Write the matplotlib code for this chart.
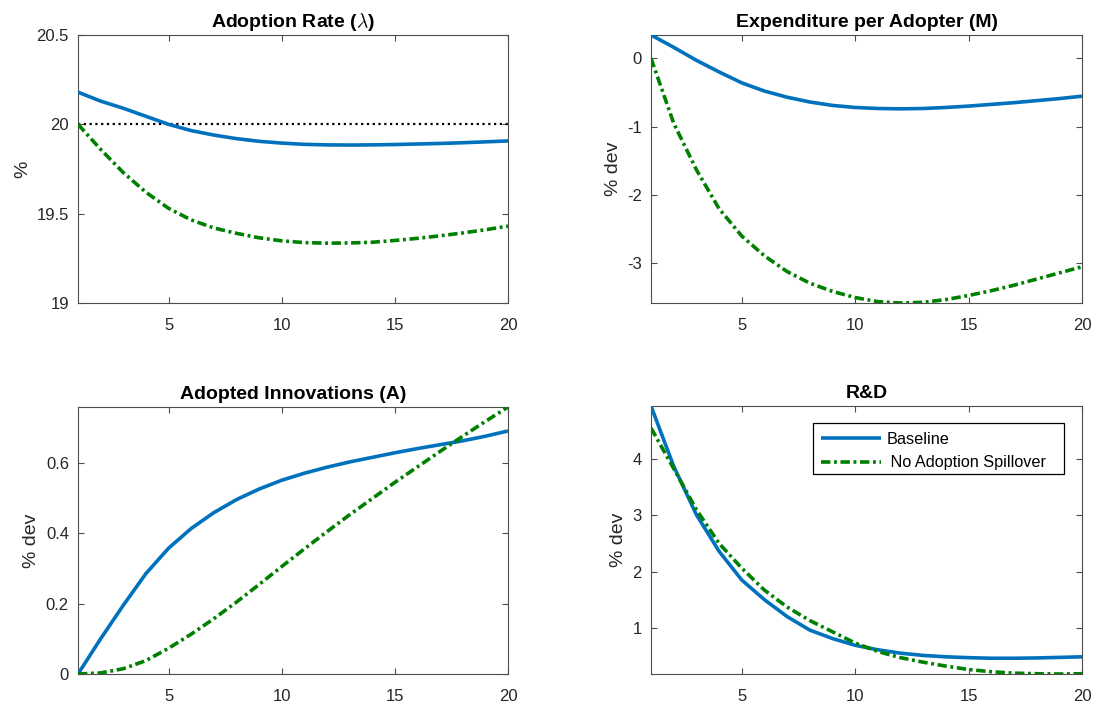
import matplotlib
matplotlib.use("Agg")
import matplotlib.pyplot as plt
from matplotlib.patches import Rectangle

plt.rcParams['font.family'] = ['Liberation Sans', 'DejaVu Sans']
plt.rcParams['mathtext.fontset'] = 'cm'

# ---------------- data ----------------
periods = list(range(1, 21))

adopt_rate_base = [20.18, 20.13, 20.09, 20.045, 20.0, 19.965, 19.94, 19.92, 19.905, 19.895,
                   19.888, 19.885, 19.884, 19.885, 19.887, 19.89, 19.893, 19.897, 19.902, 19.907]
adopt_rate_nospill = [20.0, 19.86, 19.73, 19.62, 19.53, 19.465, 19.42, 19.39, 19.365, 19.348,
                      19.338, 19.335, 19.336, 19.34, 19.35, 19.362, 19.376, 19.392, 19.41, 19.43]
adopt_rate_ss = 20.0

expend_base = [0.34, 0.16, -0.03, -0.2, -0.36, -0.48, -0.57, -0.64, -0.69, -0.72,
               -0.735, -0.74, -0.735, -0.72, -0.7, -0.675, -0.65, -0.62, -0.59, -0.555]
expend_nospill = [0.0, -0.95, -1.63, -2.2, -2.6, -2.89, -3.12, -3.29, -3.41, -3.5,
                  -3.56, -3.58, -3.57, -3.53, -3.47, -3.4, -3.32, -3.23, -3.14, -3.05]

innov_base = [0.0, 0.1, 0.195, 0.285, 0.357, 0.413, 0.458, 0.495, 0.525, 0.55,
              0.57, 0.587, 0.602, 0.615, 0.628, 0.64, 0.651, 0.662, 0.675, 0.69]
innov_nospill = [0.0, 0.003, 0.015, 0.038, 0.073, 0.113, 0.157, 0.204, 0.254, 0.305,
                 0.355, 0.404, 0.452, 0.498, 0.544, 0.588, 0.632, 0.675, 0.717, 0.758]

rd_base = [4.94, 3.87, 3.01, 2.36, 1.85, 1.5, 1.2, 0.96, 0.81, 0.69,
           0.61, 0.55, 0.51, 0.485, 0.47, 0.46, 0.46, 0.465, 0.475, 0.485]
rd_nospill = [4.55, 3.83, 3.1, 2.5, 2.06, 1.67, 1.37, 1.13, 0.93, 0.73,
              0.58, 0.47, 0.39, 0.32, 0.26, 0.22, 0.195, 0.185, 0.18, 0.185]

titles = ['Adoption Rate ($\\lambda$)', 'Expenditure per Adopter (M)',
          'Adopted Innovations (A)', 'R&D']
ylabels = ['%', '% dev', '% dev', '% dev']
series_labels = ['Baseline', ' No Adoption Spillover']

xticks = [5, 10, 15, 20]
yticks = [[19, 19.5, 20, 20.5], [-3, -2, -1, 0], [0, 0.2, 0.4, 0.6], [1, 2, 3, 4]]
yticklabels = [['19', '19.5', '20', '20.5'], ['-3', '-2', '-1', '0'],
               ['0', '0.2', '0.4', '0.6'], ['1', '2', '3', '4']]
ylims = [(19, 20.5), (-3.58, 0.34), (0, 0.758), (0.18, 4.94)]

# ---------------- style ----------------
BLUE = '#0072BD'
GREEN = '#008000'
AXC = '#4d4d4d'
TXT = '#262626'

W, H = 1100, 704
fig = plt.figure(figsize=(W / 100, H / 100), dpi=100)

def px_axes(l, t, r, b):
    return fig.add_axes([l / W, 1 - b / H, (r - l) / W, (b - t) / H])

boxes = [(78, 35, 508, 303), (651, 35, 1082, 303),
         (78, 407, 508, 674), (651, 406, 1082, 674)]
base_data = [adopt_rate_base, expend_base, innov_base, rd_base]
nospill_data = [adopt_rate_nospill, expend_nospill, innov_nospill, rd_nospill]

axes = []
for i, box in enumerate(boxes):
    ax = px_axes(*box)
    axes.append(ax)
    ax.plot(periods, base_data[i], color=BLUE, lw=2.6, solid_capstyle='butt',
            solid_joinstyle='round', label=series_labels[0], zorder=3)
    ax.plot(periods, nospill_data[i], color=GREEN, lw=2.6, label=series_labels[1],
            dashes=(2.6, 1.0, 0.8, 1.0), dash_capstyle='butt', zorder=3)
    if i == 0:
        ax.axhline(adopt_rate_ss, color='black', lw=1.6, ls=(0, (1, 1.6)), zorder=2)
    ax.set_xlim(1, 20)
    ax.set_ylim(*ylims[i])
    ax.set_xticks(xticks)
    ax.set_xticklabels([str(v) for v in xticks])
    ax.set_yticks(yticks[i])
    ax.set_yticklabels(yticklabels[i])
    ax.tick_params(direction='in', length=4.5, width=0.8, color=AXC, labelcolor=TXT,
                   labelsize=12, top=True, right=True)
    ax.tick_params(axis='x', pad=10.5)
    ax.tick_params(axis='y', pad=6.5)
    for s in ax.spines.values():
        s.set_color(AXC)
        s.set_linewidth(0.8)
    ax.set_title(titles[i], fontsize=14, fontweight='bold', color='black', pad=6)
    ax.set_ylabel(ylabels[i], fontsize=14, color=TXT, labelpad=4)

# legend (MATLAB-style box with extra right padding)
ax = axes[3]
l, t, r, b = boxes[3]
def to_axes(px, py):
    return ((px - l) / (r - l), (b - py) / (b - t))
bx0, by1 = to_axes(813, 423)
bx1, by0 = to_axes(1064, 474)
ax.add_patch(Rectangle((bx0, by0), bx1 - bx0, by1 - by0, transform=ax.transAxes,
                       facecolor='white', edgecolor='black', lw=0.9, zorder=5))
leg = ax.legend(loc='upper left', bbox_to_anchor=to_axes(814, 425), fontsize=11.7,
                frameon=False, handlelength=3.75, handletextpad=0.3, labelspacing=0.55,
                borderpad=0.4, borderaxespad=0.0)
leg.set_zorder(6)

fig.savefig('out.png', dpi=100)
